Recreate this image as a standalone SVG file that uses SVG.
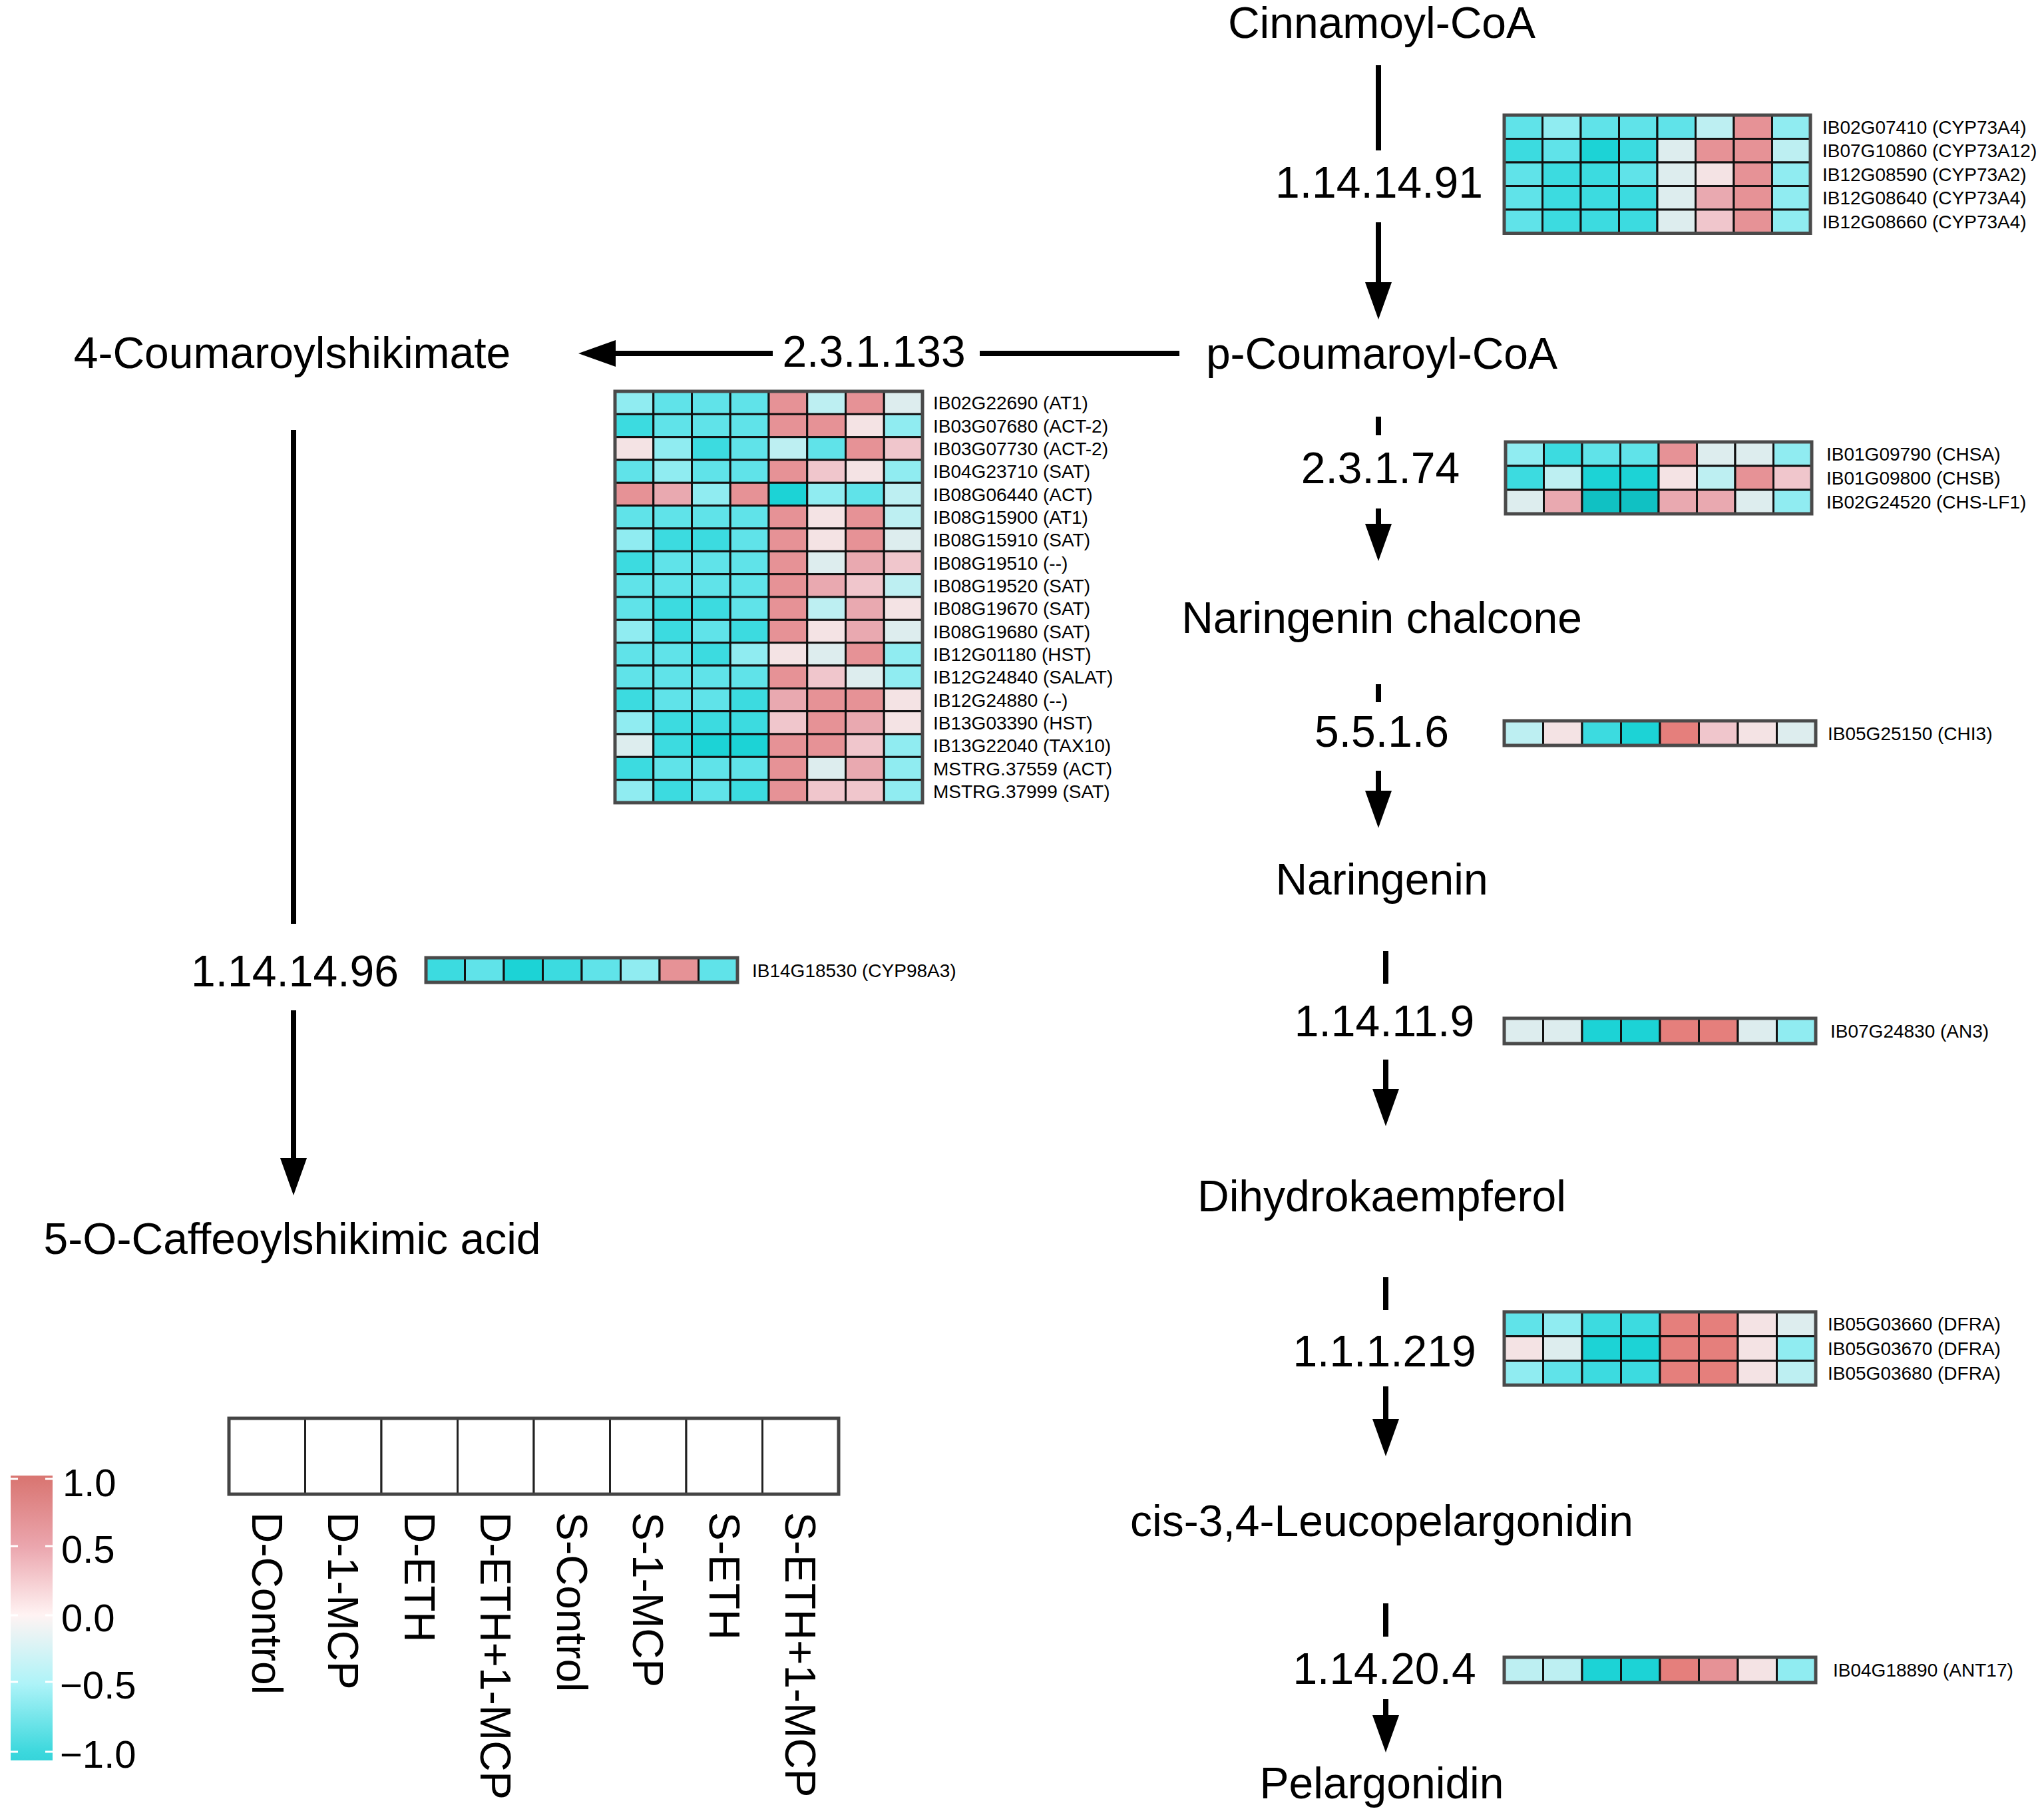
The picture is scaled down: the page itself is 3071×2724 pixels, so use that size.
<svg xmlns="http://www.w3.org/2000/svg" width="3071" height="2724" viewBox="0 0 3071 2724">
<defs>
<style>
text{font-family:"Liberation Sans",Arial,sans-serif;fill:#000}
.n{font-size:66px;text-anchor:middle}
.g{font-size:28px}
.s{font-size:64px}
.cb{font-size:58px}
.hm rect{stroke:#111;stroke-width:3}
.hm rect.bd{fill:none;stroke:#4a4a4a;stroke-width:5}
.k0{fill:#10C1C3}.k1{fill:#1CD3D6}.k2{fill:#3CDBE0}.k3{fill:#60E3E9}.k4{fill:#90ECF1}.k5{fill:#BDEFF2}.k6{fill:#DDEDEE}
.r1{fill:#F4E3E4}.r2{fill:#F0C6CC}.r3{fill:#E9A9B0}.r4{fill:#E69296}.r5{fill:#E57F7C}
.cn{stroke:#000;stroke-width:8;fill:none;marker-end:url(#ah)}
</style>
<marker id="ah" markerUnits="userSpaceOnUse" viewBox="0 0 56 40" markerWidth="56" markerHeight="40" refX="0" refY="20" orient="auto"><path d="M0,0 L56,20 L0,40 z" fill="#000"/></marker>
<linearGradient id="cbg" x1="0" y1="0" x2="0" y2="1">
<stop offset="0" stop-color="#D97672"/><stop offset="0.02" stop-color="#DA7875"/><stop offset="0.25" stop-color="#EBA6AE"/><stop offset="0.49" stop-color="#FFF3F3"/><stop offset="0.73" stop-color="#AEF3F8"/><stop offset="0.97" stop-color="#3CD8DD"/><stop offset="1" stop-color="#36D4DA"/>
</linearGradient>
</defs>
<rect width="3071" height="2724" fill="#fff"/>

<g id="connectors">
<path class="cn" d="M2071,98 V226 M2071,334 V424"/>
<path class="cn" d="M2071,626 V654 M2071,764 V787"/>
<path class="cn" d="M2071,1028 V1055 M2071,1158 V1188"/>
<path class="cn" d="M2082,1429 V1478 M2082,1592 V1636"/>
<path class="cn" d="M2082,1919 V1968 M2082,2083 V2132"/>
<path class="cn" d="M2082,2409 V2459 M2082,2553 V2577"/>
<path class="cn" d="M1772,531 H1472 M1161,531 H925"/>
<path class="cn" d="M441,646 V1388 M441,1518 V1740"/>
</g>

<g id="nodes">
<g id="n-cinnamoyl"><text class="n" x="2076" y="57">Cinnamoyl-CoA</text></g>
<g id="n-pcoumaroyl"><text class="n" x="2076" y="554">p-Coumaroyl-CoA</text></g>
<g id="n-narchalcone"><text class="n" x="2076" y="951">Naringenin chalcone</text></g>
<g id="n-naringenin"><text class="n" x="2076" y="1344">Naringenin</text></g>
<g id="n-dihydrok"><text class="n" x="2076" y="1820">Dihydrokaempferol</text></g>
<g id="n-leuco"><text class="n" x="2076" y="2308">cis-3,4-Leucopelargonidin</text></g>
<g id="n-pelarg"><text class="n" x="2076" y="2702">Pelargonidin</text></g>
<g id="n-4coum"><text class="n" x="439" y="553">4-Coumaroylshikimate</text></g>
<g id="n-5ocaff"><text class="n" x="439" y="1884">5-O-Caffeoylshikimic acid</text></g>
</g>

<g id="enzymes">
<text class="n" x="2072" y="297">1.14.14.91</text>
<text class="n" x="2074" y="726">2.3.1.74</text>
<text class="n" x="2076" y="1122">5.5.1.6</text>
<text class="n" x="2080" y="1557">1.14.11.9</text>
<text class="n" x="2080" y="2053">1.1.1.219</text>
<text class="n" x="2080" y="2530">1.14.20.4</text>
<text class="n" x="1313" y="551">2.3.1.133</text>
<text class="n" x="443" y="1482">1.14.14.96</text>
</g>

<!-- CYP73A heatmap -->
<g id="hm-cyp73a" class="hm">
<g transform="translate(2260,173)">
<rect class="k3" x="0" y="0" width="57.5" height="35.5"/><rect class="k4" x="57.5" y="0" width="57.5" height="35.5"/><rect class="k3" x="115" y="0" width="57.5" height="35.5"/><rect class="k3" x="172.5" y="0" width="57.5" height="35.5"/><rect class="k3" x="230" y="0" width="57.5" height="35.5"/><rect class="k5" x="287.5" y="0" width="57.5" height="35.5"/><rect class="r4" x="345" y="0" width="57.5" height="35.5"/><rect class="k4" x="402.5" y="0" width="57.5" height="35.5"/>
<rect class="k2" x="0" y="35.5" width="57.5" height="35.5"/><rect class="k3" x="57.5" y="35.5" width="57.5" height="35.5"/><rect class="k1" x="115" y="35.5" width="57.5" height="35.5"/><rect class="k2" x="172.5" y="35.5" width="57.5" height="35.5"/><rect class="k6" x="230" y="35.5" width="57.5" height="35.5"/><rect class="r4" x="287.5" y="35.5" width="57.5" height="35.5"/><rect class="r4" x="345" y="35.5" width="57.5" height="35.5"/><rect class="k5" x="402.5" y="35.5" width="57.5" height="35.5"/>
<rect class="k3" x="0" y="71" width="57.5" height="35.5"/><rect class="k2" x="57.5" y="71" width="57.5" height="35.5"/><rect class="k2" x="115" y="71" width="57.5" height="35.5"/><rect class="k3" x="172.5" y="71" width="57.5" height="35.5"/><rect class="k6" x="230" y="71" width="57.5" height="35.5"/><rect class="r1" x="287.5" y="71" width="57.5" height="35.5"/><rect class="r4" x="345" y="71" width="57.5" height="35.5"/><rect class="k4" x="402.5" y="71" width="57.5" height="35.5"/>
<rect class="k3" x="0" y="106.5" width="57.5" height="35.5"/><rect class="k2" x="57.5" y="106.5" width="57.5" height="35.5"/><rect class="k2" x="115" y="106.5" width="57.5" height="35.5"/><rect class="k2" x="172.5" y="106.5" width="57.5" height="35.5"/><rect class="k6" x="230" y="106.5" width="57.5" height="35.5"/><rect class="r3" x="287.5" y="106.5" width="57.5" height="35.5"/><rect class="r4" x="345" y="106.5" width="57.5" height="35.5"/><rect class="k4" x="402.5" y="106.5" width="57.5" height="35.5"/>
<rect class="k3" x="0" y="142" width="57.5" height="35.5"/><rect class="k2" x="57.5" y="142" width="57.5" height="35.5"/><rect class="k2" x="115" y="142" width="57.5" height="35.5"/><rect class="k2" x="172.5" y="142" width="57.5" height="35.5"/><rect class="k6" x="230" y="142" width="57.5" height="35.5"/><rect class="r2" x="287.5" y="142" width="57.5" height="35.5"/><rect class="r4" x="345" y="142" width="57.5" height="35.5"/><rect class="k4" x="402.5" y="142" width="57.5" height="35.5"/>
<rect class="bd" x="0" y="0" width="460" height="177.5"/>
</g>
<text class="g" x="2738" y="200.8">IB02G07410 (CYP73A4)</text>
<text class="g" x="2738" y="236.3">IB07G10860 (CYP73A12)</text>
<text class="g" x="2738" y="271.8">IB12G08590 (CYP73A2)</text>
<text class="g" x="2738" y="307.3">IB12G08640 (CYP73A4)</text>
<text class="g" x="2738" y="342.8">IB12G08660 (CYP73A4)</text>
</g>

<!-- ACT heatmap -->
<g id="hm-act" class="hm">
<g transform="translate(924,588)">
<g transform="translate(0,0)"><rect class="k4" x="0" width="57.75" height="34.33"/><rect class="k3" x="57.75" width="57.75" height="34.33"/><rect class="k3" x="115.5" width="57.75" height="34.33"/><rect class="k3" x="173.25" width="57.75" height="34.33"/><rect class="r4" x="231" width="57.75" height="34.33"/><rect class="k5" x="288.75" width="57.75" height="34.33"/><rect class="r4" x="346.5" width="57.75" height="34.33"/><rect class="k6" x="404.25" width="57.75" height="34.33"/></g>
<g transform="translate(0,34.33)"><rect class="k2" x="0" width="57.75" height="34.33"/><rect class="k3" x="57.75" width="57.75" height="34.33"/><rect class="k3" x="115.5" width="57.75" height="34.33"/><rect class="k3" x="173.25" width="57.75" height="34.33"/><rect class="r4" x="231" width="57.75" height="34.33"/><rect class="r4" x="288.75" width="57.75" height="34.33"/><rect class="r1" x="346.5" width="57.75" height="34.33"/><rect class="k4" x="404.25" width="57.75" height="34.33"/></g>
<g transform="translate(0,68.67)"><rect class="r1" x="0" width="57.75" height="34.33"/><rect class="k4" x="57.75" width="57.75" height="34.33"/><rect class="k2" x="115.5" width="57.75" height="34.33"/><rect class="k3" x="173.25" width="57.75" height="34.33"/><rect class="k5" x="231" width="57.75" height="34.33"/><rect class="k3" x="288.75" width="57.75" height="34.33"/><rect class="r4" x="346.5" width="57.75" height="34.33"/><rect class="r2" x="404.25" width="57.75" height="34.33"/></g>
<g transform="translate(0,103)"><rect class="k3" x="0" width="57.75" height="34.33"/><rect class="k4" x="57.75" width="57.75" height="34.33"/><rect class="k3" x="115.5" width="57.75" height="34.33"/><rect class="k3" x="173.25" width="57.75" height="34.33"/><rect class="r4" x="231" width="57.75" height="34.33"/><rect class="r2" x="288.75" width="57.75" height="34.33"/><rect class="r1" x="346.5" width="57.75" height="34.33"/><rect class="k4" x="404.25" width="57.75" height="34.33"/></g>
<g transform="translate(0,137.33)"><rect class="r4" x="0" width="57.75" height="34.33"/><rect class="r3" x="57.75" width="57.75" height="34.33"/><rect class="k4" x="115.5" width="57.75" height="34.33"/><rect class="r4" x="173.25" width="57.75" height="34.33"/><rect class="k1" x="231" width="57.75" height="34.33"/><rect class="k4" x="288.75" width="57.75" height="34.33"/><rect class="k3" x="346.5" width="57.75" height="34.33"/><rect class="k5" x="404.25" width="57.75" height="34.33"/></g>
<g transform="translate(0,171.67)"><rect class="k3" x="0" width="57.75" height="34.33"/><rect class="k3" x="57.75" width="57.75" height="34.33"/><rect class="k3" x="115.5" width="57.75" height="34.33"/><rect class="k3" x="173.25" width="57.75" height="34.33"/><rect class="r4" x="231" width="57.75" height="34.33"/><rect class="r1" x="288.75" width="57.75" height="34.33"/><rect class="r4" x="346.5" width="57.75" height="34.33"/><rect class="k5" x="404.25" width="57.75" height="34.33"/></g>
<g transform="translate(0,206)"><rect class="k4" x="0" width="57.75" height="34.33"/><rect class="k2" x="57.75" width="57.75" height="34.33"/><rect class="k2" x="115.5" width="57.75" height="34.33"/><rect class="k3" x="173.25" width="57.75" height="34.33"/><rect class="r4" x="231" width="57.75" height="34.33"/><rect class="r1" x="288.75" width="57.75" height="34.33"/><rect class="r4" x="346.5" width="57.75" height="34.33"/><rect class="k6" x="404.25" width="57.75" height="34.33"/></g>
<g transform="translate(0,240.33)"><rect class="k2" x="0" width="57.75" height="34.33"/><rect class="k3" x="57.75" width="57.75" height="34.33"/><rect class="k3" x="115.5" width="57.75" height="34.33"/><rect class="k3" x="173.25" width="57.75" height="34.33"/><rect class="r4" x="231" width="57.75" height="34.33"/><rect class="k6" x="288.75" width="57.75" height="34.33"/><rect class="r3" x="346.5" width="57.75" height="34.33"/><rect class="r2" x="404.25" width="57.75" height="34.33"/></g>
<g transform="translate(0,274.67)"><rect class="k3" x="0" width="57.75" height="34.33"/><rect class="k3" x="57.75" width="57.75" height="34.33"/><rect class="k3" x="115.5" width="57.75" height="34.33"/><rect class="k3" x="173.25" width="57.75" height="34.33"/><rect class="r4" x="231" width="57.75" height="34.33"/><rect class="r3" x="288.75" width="57.75" height="34.33"/><rect class="r2" x="346.5" width="57.75" height="34.33"/><rect class="k5" x="404.25" width="57.75" height="34.33"/></g>
<g transform="translate(0,309)"><rect class="k3" x="0" width="57.75" height="34.33"/><rect class="k2" x="57.75" width="57.75" height="34.33"/><rect class="k2" x="115.5" width="57.75" height="34.33"/><rect class="k3" x="173.25" width="57.75" height="34.33"/><rect class="r4" x="231" width="57.75" height="34.33"/><rect class="k5" x="288.75" width="57.75" height="34.33"/><rect class="r3" x="346.5" width="57.75" height="34.33"/><rect class="r1" x="404.25" width="57.75" height="34.33"/></g>
<g transform="translate(0,343.33)"><rect class="k4" x="0" width="57.75" height="34.33"/><rect class="k2" x="57.75" width="57.75" height="34.33"/><rect class="k3" x="115.5" width="57.75" height="34.33"/><rect class="k2" x="173.25" width="57.75" height="34.33"/><rect class="r4" x="231" width="57.75" height="34.33"/><rect class="r1" x="288.75" width="57.75" height="34.33"/><rect class="r3" x="346.5" width="57.75" height="34.33"/><rect class="k6" x="404.25" width="57.75" height="34.33"/></g>
<g transform="translate(0,377.67)"><rect class="k3" x="0" width="57.75" height="34.33"/><rect class="k3" x="57.75" width="57.75" height="34.33"/><rect class="k2" x="115.5" width="57.75" height="34.33"/><rect class="k4" x="173.25" width="57.75" height="34.33"/><rect class="r1" x="231" width="57.75" height="34.33"/><rect class="k6" x="288.75" width="57.75" height="34.33"/><rect class="r4" x="346.5" width="57.75" height="34.33"/><rect class="k4" x="404.25" width="57.75" height="34.33"/></g>
<g transform="translate(0,412)"><rect class="k3" x="0" width="57.75" height="34.33"/><rect class="k3" x="57.75" width="57.75" height="34.33"/><rect class="k3" x="115.5" width="57.75" height="34.33"/><rect class="k3" x="173.25" width="57.75" height="34.33"/><rect class="r4" x="231" width="57.75" height="34.33"/><rect class="r2" x="288.75" width="57.75" height="34.33"/><rect class="k6" x="346.5" width="57.75" height="34.33"/><rect class="k4" x="404.25" width="57.75" height="34.33"/></g>
<g transform="translate(0,446.33)"><rect class="k2" x="0" width="57.75" height="34.33"/><rect class="k3" x="57.75" width="57.75" height="34.33"/><rect class="k3" x="115.5" width="57.75" height="34.33"/><rect class="k2" x="173.25" width="57.75" height="34.33"/><rect class="r3" x="231" width="57.75" height="34.33"/><rect class="r4" x="288.75" width="57.75" height="34.33"/><rect class="r4" x="346.5" width="57.75" height="34.33"/><rect class="r1" x="404.25" width="57.75" height="34.33"/></g>
<g transform="translate(0,480.67)"><rect class="k4" x="0" width="57.75" height="34.33"/><rect class="k2" x="57.75" width="57.75" height="34.33"/><rect class="k2" x="115.5" width="57.75" height="34.33"/><rect class="k2" x="173.25" width="57.75" height="34.33"/><rect class="r2" x="231" width="57.75" height="34.33"/><rect class="r4" x="288.75" width="57.75" height="34.33"/><rect class="r3" x="346.5" width="57.75" height="34.33"/><rect class="r1" x="404.25" width="57.75" height="34.33"/></g>
<g transform="translate(0,515)"><rect class="k6" x="0" width="57.75" height="34.33"/><rect class="k2" x="57.75" width="57.75" height="34.33"/><rect class="k1" x="115.5" width="57.75" height="34.33"/><rect class="k1" x="173.25" width="57.75" height="34.33"/><rect class="r4" x="231" width="57.75" height="34.33"/><rect class="r4" x="288.75" width="57.75" height="34.33"/><rect class="r2" x="346.5" width="57.75" height="34.33"/><rect class="k4" x="404.25" width="57.75" height="34.33"/></g>
<g transform="translate(0,549.33)"><rect class="k2" x="0" width="57.75" height="34.33"/><rect class="k3" x="57.75" width="57.75" height="34.33"/><rect class="k3" x="115.5" width="57.75" height="34.33"/><rect class="k3" x="173.25" width="57.75" height="34.33"/><rect class="r4" x="231" width="57.75" height="34.33"/><rect class="k6" x="288.75" width="57.75" height="34.33"/><rect class="r3" x="346.5" width="57.75" height="34.33"/><rect class="k4" x="404.25" width="57.75" height="34.33"/></g>
<g transform="translate(0,583.67)"><rect class="k4" x="0" width="57.75" height="34.33"/><rect class="k2" x="57.75" width="57.75" height="34.33"/><rect class="k3" x="115.5" width="57.75" height="34.33"/><rect class="k2" x="173.25" width="57.75" height="34.33"/><rect class="r4" x="231" width="57.75" height="34.33"/><rect class="r2" x="288.75" width="57.75" height="34.33"/><rect class="r2" x="346.5" width="57.75" height="34.33"/><rect class="k4" x="404.25" width="57.75" height="34.33"/></g>
<rect class="bd" x="0" y="0" width="462" height="618"/>
</g>
<text class="g" x="1402" y="615.2">IB02G22690 (AT1)</text>
<text class="g" x="1402" y="649.5">IB03G07680 (ACT-2)</text>
<text class="g" x="1402" y="683.8">IB03G07730 (ACT-2)</text>
<text class="g" x="1402" y="718.2">IB04G23710 (SAT)</text>
<text class="g" x="1402" y="752.5">IB08G06440 (ACT)</text>
<text class="g" x="1402" y="786.8">IB08G15900 (AT1)</text>
<text class="g" x="1402" y="821.2">IB08G15910 (SAT)</text>
<text class="g" x="1402" y="855.5">IB08G19510 (--)</text>
<text class="g" x="1402" y="889.8">IB08G19520 (SAT)</text>
<text class="g" x="1402" y="924.2">IB08G19670 (SAT)</text>
<text class="g" x="1402" y="958.5">IB08G19680 (SAT)</text>
<text class="g" x="1402" y="992.8">IB12G01180 (HST)</text>
<text class="g" x="1402" y="1027.2">IB12G24840 (SALAT)</text>
<text class="g" x="1402" y="1061.5">IB12G24880 (--)</text>
<text class="g" x="1402" y="1095.8">IB13G03390 (HST)</text>
<text class="g" x="1402" y="1130.2">IB13G22040 (TAX10)</text>
<text class="g" x="1402" y="1164.5">MSTRG.37559 (ACT)</text>
<text class="g" x="1402" y="1198.8">MSTRG.37999 (SAT)</text>
</g>

<!-- CHS heatmap -->
<g id="hm-chs" class="hm">
<g transform="translate(2262,664)">
<rect class="k4" x="0" y="0" width="57.5" height="36"/><rect class="k2" x="57.5" y="0" width="57.5" height="36"/><rect class="k3" x="115" y="0" width="57.5" height="36"/><rect class="k3" x="172.5" y="0" width="57.5" height="36"/><rect class="r4" x="230" y="0" width="57.5" height="36"/><rect class="k6" x="287.5" y="0" width="57.5" height="36"/><rect class="k6" x="345" y="0" width="57.5" height="36"/><rect class="k4" x="402.5" y="0" width="57.5" height="36"/>
<rect class="k2" x="0" y="36" width="57.5" height="36"/><rect class="k5" x="57.5" y="36" width="57.5" height="36"/><rect class="k1" x="115" y="36" width="57.5" height="36"/><rect class="k1" x="172.5" y="36" width="57.5" height="36"/><rect class="r1" x="230" y="36" width="57.5" height="36"/><rect class="k5" x="287.5" y="36" width="57.5" height="36"/><rect class="r4" x="345" y="36" width="57.5" height="36"/><rect class="r2" x="402.5" y="36" width="57.5" height="36"/>
<rect class="k6" x="0" y="72" width="57.5" height="36"/><rect class="r3" x="57.5" y="72" width="57.5" height="36"/><rect class="k0" x="115" y="72" width="57.5" height="36"/><rect class="k0" x="172.5" y="72" width="57.5" height="36"/><rect class="r3" x="230" y="72" width="57.5" height="36"/><rect class="r3" x="287.5" y="72" width="57.5" height="36"/><rect class="k6" x="345" y="72" width="57.5" height="36"/><rect class="k4" x="402.5" y="72" width="57.5" height="36"/>
<rect class="bd" x="0" y="0" width="460" height="108"/>
</g>
<text class="g" x="2744" y="692">IB01G09790 (CHSA)</text>
<text class="g" x="2744" y="728">IB01G09800 (CHSB)</text>
<text class="g" x="2744" y="764">IB02G24520 (CHS-LF1)</text>
</g>

<!-- CHI3 -->
<g id="hm-chi3" class="hm">
<g transform="translate(2260,1083)">
<rect class="k5" x="0" y="0" width="58.5" height="37"/><rect class="r1" x="58.5" y="0" width="58.5" height="37"/><rect class="k2" x="117" y="0" width="58.5" height="37"/><rect class="k1" x="175.5" y="0" width="58.5" height="37"/><rect class="r5" x="234" y="0" width="58.5" height="37"/><rect class="r2" x="292.5" y="0" width="58.5" height="37"/><rect class="r1" x="351" y="0" width="58.5" height="37"/><rect class="k6" x="409.5" y="0" width="58.5" height="37"/>
<rect class="bd" x="0" y="0" width="468" height="37"/>
</g>
<text class="g" x="2746" y="1111.5">IB05G25150 (CHI3)</text>
</g>

<!-- AN3 -->
<g id="hm-an3" class="hm">
<g transform="translate(2260,1530)">
<rect class="k6" x="0" y="0" width="58.5" height="38"/><rect class="k6" x="58.5" y="0" width="58.5" height="38"/><rect class="k1" x="117" y="0" width="58.5" height="38"/><rect class="k1" x="175.5" y="0" width="58.5" height="38"/><rect class="r5" x="234" y="0" width="58.5" height="38"/><rect class="r5" x="292.5" y="0" width="58.5" height="38"/><rect class="k6" x="351" y="0" width="58.5" height="38"/><rect class="k4" x="409.5" y="0" width="58.5" height="38"/>
<rect class="bd" x="0" y="0" width="468" height="38"/>
</g>
<text class="g" x="2750" y="1559">IB07G24830 (AN3)</text>
</g>

<!-- DFRA -->
<g id="hm-dfra" class="hm">
<g transform="translate(2260,1971)">
<rect class="k3" x="0" y="0" width="58.5" height="36.7"/><rect class="k4" x="58.5" y="0" width="58.5" height="36.7"/><rect class="k2" x="117" y="0" width="58.5" height="36.7"/><rect class="k2" x="175.5" y="0" width="58.5" height="36.7"/><rect class="r5" x="234" y="0" width="58.5" height="36.7"/><rect class="r5" x="292.5" y="0" width="58.5" height="36.7"/><rect class="r1" x="351" y="0" width="58.5" height="36.7"/><rect class="k6" x="409.5" y="0" width="58.5" height="36.7"/>
<rect class="r1" x="0" y="36.7" width="58.5" height="36.7"/><rect class="k6" x="58.5" y="36.7" width="58.5" height="36.7"/><rect class="k1" x="117" y="36.7" width="58.5" height="36.7"/><rect class="k1" x="175.5" y="36.7" width="58.5" height="36.7"/><rect class="r5" x="234" y="36.7" width="58.5" height="36.7"/><rect class="r5" x="292.5" y="36.7" width="58.5" height="36.7"/><rect class="r1" x="351" y="36.7" width="58.5" height="36.7"/><rect class="k4" x="409.5" y="36.7" width="58.5" height="36.7"/>
<rect class="k4" x="0" y="73.4" width="58.5" height="36.7"/><rect class="k3" x="58.5" y="73.4" width="58.5" height="36.7"/><rect class="k2" x="117" y="73.4" width="58.5" height="36.7"/><rect class="k2" x="175.5" y="73.4" width="58.5" height="36.7"/><rect class="r5" x="234" y="73.4" width="58.5" height="36.7"/><rect class="r5" x="292.5" y="73.4" width="58.5" height="36.7"/><rect class="r1" x="351" y="73.4" width="58.5" height="36.7"/><rect class="k5" x="409.5" y="73.4" width="58.5" height="36.7"/>
<rect class="bd" x="0" y="0" width="468" height="110.1"/>
</g>
<text class="g" x="2746" y="1999.4">IB05G03660 (DFRA)</text>
<text class="g" x="2746" y="2036">IB05G03670 (DFRA)</text>
<text class="g" x="2746" y="2072.8">IB05G03680 (DFRA)</text>
</g>

<!-- ANT17 -->
<g id="hm-ant17" class="hm">
<g transform="translate(2260,2490)">
<rect class="k5" x="0" y="0" width="58.5" height="38"/><rect class="k5" x="58.5" y="0" width="58.5" height="38"/><rect class="k1" x="117" y="0" width="58.5" height="38"/><rect class="k1" x="175.5" y="0" width="58.5" height="38"/><rect class="r5" x="234" y="0" width="58.5" height="38"/><rect class="r4" x="292.5" y="0" width="58.5" height="38"/><rect class="r1" x="351" y="0" width="58.5" height="38"/><rect class="k4" x="409.5" y="0" width="58.5" height="38"/>
<rect class="bd" x="0" y="0" width="468" height="38"/>
</g>
<text class="g" x="2754" y="2519">IB04G18890 (ANT17)</text>
</g>

<!-- CYP98A3 -->
<g id="hm-cyp98a3" class="hm">
<g transform="translate(640,1439)">
<rect class="k2" x="0" y="0" width="58.5" height="37"/><rect class="k3" x="58.5" y="0" width="58.5" height="37"/><rect class="k1" x="117" y="0" width="58.5" height="37"/><rect class="k2" x="175.5" y="0" width="58.5" height="37"/><rect class="k3" x="234" y="0" width="58.5" height="37"/><rect class="k4" x="292.5" y="0" width="58.5" height="37"/><rect class="r4" x="351" y="0" width="58.5" height="37"/><rect class="k3" x="409.5" y="0" width="58.5" height="37"/>
<rect class="bd" x="0" y="0" width="468" height="37"/>
</g>
<text class="g" x="1130" y="1467.5">IB14G18530 (CYP98A3)</text>
</g>

<!-- sample legend -->
<g id="sample-legend">
<g stroke="#222" stroke-width="3" fill="#fff">
<rect x="344" y="2131" width="114.5" height="114"/><rect x="458.5" y="2131" width="114.5" height="114"/><rect x="573" y="2131" width="114.5" height="114"/><rect x="687.5" y="2131" width="114.5" height="114"/><rect x="802" y="2131" width="114.5" height="114"/><rect x="916.5" y="2131" width="114.5" height="114"/><rect x="1031" y="2131" width="114.5" height="114"/><rect x="1145.5" y="2131" width="114.5" height="114"/>
</g>
<rect x="344" y="2131" width="916" height="114" fill="none" stroke="#444" stroke-width="5"/>
<text class="s" transform="translate(379,2272) rotate(90)">D-Control</text>
<text class="s" transform="translate(493,2272) rotate(90)">D-1-MCP</text>
<text class="s" transform="translate(608,2272) rotate(90)">D-ETH</text>
<text class="s" transform="translate(722,2272) rotate(90)">D-ETH+1-MCP</text>
<text class="s" transform="translate(837,2272) rotate(90)">S-Control</text>
<text class="s" transform="translate(951,2272) rotate(90)">S-1-MCP</text>
<text class="s" transform="translate(1066,2272) rotate(90)">S-ETH</text>
<text class="s" transform="translate(1180,2272) rotate(90)">S-ETH+1-MCP</text>
</g>

<!-- colour bar -->
<g id="colorbar">
<rect x="16" y="2217" width="63" height="428" fill="url(#cbg)"/>
<g stroke="#fff" stroke-width="3">
<path d="M16,2222 h11 M68,2222 h11 M16,2323 h11 M68,2323 h11 M16,2427 h11 M68,2427 h11 M16,2527 h11 M68,2527 h11 M16,2632 h11 M68,2632 h11"/>
</g>
<text class="cb" x="94" y="2248">1.0</text>
<text class="cb" x="92" y="2348">0.5</text>
<text class="cb" x="92" y="2451">0.0</text>
<text class="cb" x="90" y="2552">−0.5</text>
<text class="cb" x="90" y="2656">−1.0</text>
</g>
</svg>
